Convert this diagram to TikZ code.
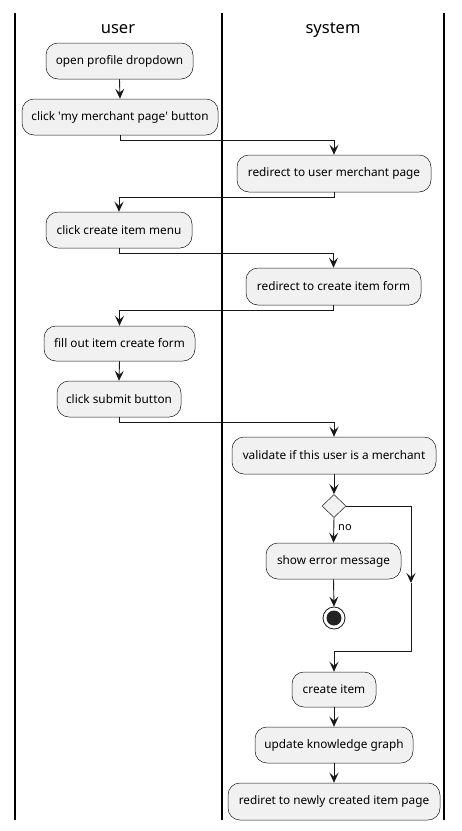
\documentclass[tikz,border=0pt]{standalone}
\usepackage{fontspec}
\setmainfont{Noto Sans}
\usetikzlibrary{arrows.meta,shapes.geometric}
\definecolor{boxfill}{HTML}{F1F1F1}
\definecolor{ink}{HTML}{181818}
\begin{document}
\begin{tikzpicture}[x=1pt,y=-1pt,
  act/.style={draw=ink,fill=boxfill,rounded corners=12pt,line width=0.5pt,
    minimum height=36pt,inner sep=0pt,font=\fontsize{11.8}{13}\selectfont},
  flow/.style={draw=ink,line width=0.9pt,-{Stealth[length=10pt,width=9pt,inset=4pt]}},
  link/.style={draw=ink,line width=0.9pt},
  lane/.style={draw=black,line width=1.4pt},
  title/.style={font=\fontsize{16.5}{19}\selectfont,anchor=base,inner sep=0pt}]
\useasboundingbox (0,0) rectangle (462,831);
\fill[white] (0,0) rectangle (462,831);

% swimlanes
\draw[lane] (15,13) -- (15,820);
\draw[lane] (222,13) -- (222,820);
\draw[lane] (444,13) -- (444,820);
\node[title] (tuser) at (118,33) {user};
\node[title] (tsys) at (333,33) {system};

% activities
\node[act,minimum width=147pt] (n1) at (119.5,61) {open profile dropdown};
\node[act,minimum width=196pt] (n2) at (120,117) {click \textquotesingle my merchant page\textquotesingle{} button};
\node[act,minimum width=194pt,minimum height=37pt] (s1) at (334,173.5) {redirect to user merchant page};
\node[act,minimum width=146pt] (n3) at (119,230) {click create item menu};
\node[act,minimum width=175pt,minimum height=37pt] (s2) at (333.5,286.5) {redirect to create item form};
\node[act,minimum width=151pt,minimum height=35pt] (n4) at (119.5,343.5) {fill out item create form};
\node[act,minimum width=124pt] (n5) at (119,399) {click submit button};
\node[act,minimum width=204pt,minimum height=37pt] (s3) at (334,455.5) {validate if this user is a merchant};
\node[diamond,draw=ink,fill=boxfill,line width=0.5pt,minimum width=24pt,minimum height=23pt,inner sep=0pt] (d) at (334,506) {};
\node[act,minimum width=135pt] (s4) at (333.5,561) {show error message};
\node[circle,draw=ink,fill=white,line width=0.8pt,minimum size=22pt,inner sep=0pt] (stop) at (334,618) {};
\fill[ink!95!white] (stop.center) circle (7.5pt);
\node[act,minimum width=84pt,minimum height=35pt] (s5) at (334,689.5) {create item};
\node[act,minimum width=158pt] (s6) at (334,745) {update knowledge graph};
\node[act,minimum width=212pt,minimum height=37pt] (s7) at (334,801.5) {rediret to newly created item page};

% control flow
\draw[flow] (n1.south) -- (n2.north);
\draw[flow] (n2.south) -- ++(0,5) -| (s1.north);
\draw[flow] (s1.south) -- ++(0,5) -| (n3.north);
\draw[flow] (n3.south) -- ++(0,5) -| (s2.north);
\draw[flow] (s2.south) -- ++(0,5) -| (n4.north);
\draw[flow] (n4.south) -- (n5.north);
\draw[flow] (n5.south) -- ++(0,5) -| (s3.north);
\draw[flow] (s3.south) -- (d.north);
\draw[flow] (d.south) -- (s4.north);
\node[anchor=base west,inner sep=0pt,font=\fontsize{11}{13}\selectfont] (no) at (338,530) {no};
\draw[flow] (s4.south) -- (stop.north);

% merge branch
\coordinate (r1) at (411,506);
\coordinate (rmid) at (411,583);
\coordinate (r2) at (411,651);
\coordinate (m) at (334,651);
\draw[link] (d.east) -- (r1);
\draw[flow] (r1) -- (rmid);
\draw[link] (rmid) -- (r2) -- (m);
\draw[flow] (m) -- (s5.north);
\draw[flow] (s5.south) -- (s6.north);
\draw[flow] (s6.south) -- (s7.north);
\end{tikzpicture}
\end{document}
